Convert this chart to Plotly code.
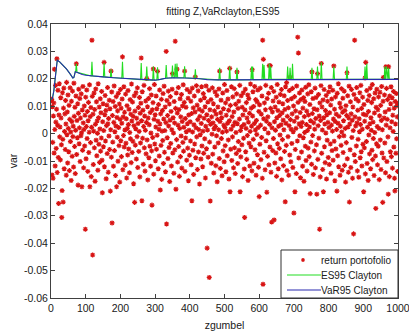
import plotly.graph_objects as go

# ---------------- data ----------------
ret = [
 .0121, .0125, -.0151, .0098, -.0032, -.0163, .0064, .0112, -.0071, .0235, .0015, -.0118, .0176, .0042, -.0054, .0089, .0273, -.0142, .0031, .0158,
 -.0087, -.0255, .0068, .0182, -.0012, .0024, -.0096, .0131, .0057, -.0041, -.0306, -.0208, .0149, -.0021, -.025, .0093, .0166, -.0128, .0008, .0072,
 -.0058, .0121, .0035, -.0152, .0187, -.0004, .0079, -.0107, .0141, .0019, -.0066, .0103, -.0135, .0052, .0167, -.0029, .0006, -.0171, .0118, .0044,
 -.0083, .0155, -.0011, .0027, -.0122, .0184, .0063, -.0047, .0096, -.0146, .0012, .0137, .0255, -.0076, .0048, -.0015, .0109, -.0188, .0074, .0162,
 -.0037, .0021, .0128, -.0102, .0057, -.0008, .0145, .0003, -.0194, .0086, -.0061, .0172, .0039, -.0125, .0015, .0101, -.0045, .0067, -.0349, .0133,
 -.0092, .0026, .0159, -.0018, .0081, -.0138, .0047, .0114, -.0069, .0005, .0178, -.0194, .0062, -.0033, .0095, -.0157, .0023, .0341, .0136, -.0443,
 .0071, -.0113, .0009, .0148, -.0052, .0088, -.0174, .0034, .0163, -.0024, .0116, -.0081, .0046, .0001, -.0134, .0182, .0058, -.0039, .0097, -.0105,
 .0017, .0127, -.0064, .0076, -.0016, .0154, -.0097, -.0216, .0043, .0109, -.0048, .0011, .026, -.0121, .0069, .0139, -.0027, .0084, -.0165, .0029,
 .0104, -.0073, .0168, .0036, -.0141, .0055, -.0009, .0122, -.0058, .0091, -.021, .0014, .0228, -.0086, .0152, -.0326, .0066, -.0031, .0117, -.0119,
 .0041, .0174, -.0062, .0007, .0099, -.0153, .0028, .0135, -.0194, .0059, -.0013, .0083, -.0101, .0147, .0022, -.0044, .0108, -.0177, .0052, .0161,
 -.0026, .0093, -.0084, .0038, .0126, .028, -.0132, .0061, -.0007, .0171, -.0049, .0078, .0013, -.0115, .0144, -.0035, .0054, -.0162, .0102, .0019,
 -.0078, .0157, .0033, -.0056, .0089, -.0143, .0004, .0124, -.0019, .0071, -.0106, .0181, .0046, -.0069, .0115, -.0028, .0063, -.0183, .0029, .0138,
 -.0251, .0082, -.0042, .0018, .0149, -.0093, .0056, -.0011, .0167, -.0124, .0037, .0095, -.0065, .0008, .0132, -.0158, .0074, -.0034, .0111, .0276,
 .0047, -.0245, .0153, -.0017, .0085, -.0112, .0026, .0176, -.0052, .0064, -.0137, .0012, .0119, -.0074, .0041, .0201, -.0023, .0098, -.0169, .0057,
 .0128, -.0088, .0032, .0164, -.0046, .0077, -.0119, .0002, .0141, -.0063, -.0261, .0087, -.0014, .0113, .0236, -.0148, .0052, .0179, -.0038, .0069,
 -.0099, .0024, .0137, -.0057, .0091, -.0006, .0227, .0045, -.0128, .0106, .0016, -.0082, .0159, .0035, -.0206, .0072, -.0043, .0125, -.0167, .0009,
 .0084, -.0025, .0146, -.0109, .0053, .0173, -.0068, .0011, .0097, -.0139, .0040, .030, -.033, .0121, -.0015, .0066, -.0091, .0155, .0028, -.0051,
 .0108, -.0175, .0049, .0135, -.0036, .0081, -.0118, .0014, .0162, .0219, -.0071, .0058, .0002, -.0145, .0117, .0039, -.0059, .0337, .0092, -.0203,
 .0148, -.0022, .0235, .0075, -.0104, .0031, .0168, -.0047, .0088, -.0156, .0019, .0127, -.0084, .0061, -.0009, .0143, -.0126, .0044, .0101, -.0032,
 .0178, -.0064, .0023, .0114, .0228, -.0138, .0055, -.0016, .0096, .0007, -.0097, .0161, .0036, -.0053, .0129, -.0172, .0068, .0012, -.0079, .0152,
 .0043, -.0027, .0118, -.0114, .0073, -.0245, .0166, .0006, -.0061, .0094, -.0149, .0032, .0137, -.0038, .0079, .0207, -.0088, .0021, .0175, -.0012,
 .0104, -.0131, .0051, .0156, -.0067, .0015, .0089, -.0184, .0063, -.0004, .0122, -.0093, .0037, .0171, -.0045, .0082, -.0121, .0009, .0146, -.0072,
 .0056, .0131, -.0019, .0098, -.0162, .0027, .0174, -.0055, .0069, -.0418, .0013, .0115, -.0086, .0048, .0158, -.0525, -.0031, .0087, -.0246, .0034,
 .0124, -.0108, .0061, -.0002, .0167, -.0075, .0039, .0109, -.0144, .0018, .0083, -.0049, .0152, .0026, -.0117, .0071, -.0008, .0139, -.0176, .0052,
 .0097, -.0034, .0014, .0163, -.0091, .0228, .0044, -.0127, .0076, .0122, -.0018, .0058, -.0154, .0005, .0148, -.0063, .0091, .0031, -.0103, .0179,
 .0023, -.0044, .0112, -.0139, .0067, .0009, .0157, -.0081, .0038, .0126, -.0023, .0085, -.0166, .0047, .0238, -.0212, .0103, -.0057, .0016, .0171,
 -.0098, .0062, -.0012, .0134, .0029, -.0125, .0079, .0164, -.0052, .0041, -.0146, .0107, .0004, -.0073, .0145, .0225, .0036, -.0109, .0092, -.0029,
 .0118, -.0061, .0053, .0176, -.0212, .0011, -.0085, .0138, .0025, -.0041, .0096, -.0157, .0068, .0149, -.0017, .0033, -.0129, -.0306, .0086, .0162,
 -.0066, .0019, .0113, -.0094, .0057, -.0007, .0141, -.0171, .0042, .0128, -.0035, .0074, -.0118, .0008, .0181, -.0048, .0093, .0027, -.0136, .0233,
 .0064, .0153, -.0021, .0099, -.0108, .0037, .0172, -.0059, .0013, .0124, -.0152, .0048, -.0003, .0116, -.0077, .0159, .0022, -.0123, .0081, -.023,
 .0105, -.0039, .0166, .0031, -.0095, .0071, -.0014, .0137, -.0163, .0341, -.055, .0271, .0054, -.0068, .0112, .0018, -.0132, .0087, .0176, -.0026,
 .0045, -.0214, .0128, -.0083, .0061, .0002, .0147, -.0114, .0248, .0034, -.0049, .0248, .0092, -.0141, .0168, -.0323, .0021, .0079, -.0062, .0119,
 -.0018, .0154, -.0315, .0043, -.0107, .0097, .0012, -.0071, .0133, -.0156, .0058, .0179, -.0037, .0084, -.0128, .0027, .0115, -.0054, .0066, -.0005,
 .0143, -.0092, .0032, .0161, -.0169, .0076, -.0022, .0109, .0049, -.0117, .0014, .0138, -.0065, .0088, -.0249, .0171, .0038, -.0043, .0186, -.0135,
 .0063, .0121, -.0011, .0094, -.0152, .0029, .0157, -.0078, .0205, .0051, -.0103, .0016, .0127, -.0036, .0072, .0165, -.0124, .0007, .0101, -.029,
 .0045, .0135, -.0212, -.0058, .0083, .0019, -.0146, .0174, .0059, -.0027, .0352, .0114, .0294, -.0089, .0036, .0148, -.0008, .0077, -.0161, .0124,
 .0026, -.0067, .0159, .0041, -.0119, .0093, -.0015, .0131, -.0174, .0062, .0004, .0117, -.0046, .0169, -.0098, .0033, .0082, -.0137, .0011, .0145,
 -.0053, .0068, .0178, -.0084, .0024, .0106, -.0219, .0047, -.0031, .0153, -.0112, .0225, .0073, -.0007, .0128, -.0149, .0039, .0091, -.0063, .0016,
 .0166, -.0125, .0055, .0132, -.0041, -.0221, .0087, .0219, -.0094, .0029, .0143, -.0017, .0064, -.0349, .0112, -.0158, .0048, .0175, .0256, -.0072,
 .0097, .0013, -.0131, .0123, -.0212, .0058, .0161, -.0048, .0035, -.0106, .0084, .0002, .0139, -.0166, .0069, -.0024, .0118, .0041, -.0087, .0152,
 .0022, -.0113, .0076, .0171, -.0038, .0104, -.0145, .0031, .0126, -.0062, .0009, .0158, -.0097, .0053, .0247, -.0028, .0089, -.0172, .0044, .0134,
 -.0056, .0071, .0015, -.021, .0147, -.0081, .0038, .0182, -.0121, .0063, -.0011, .0111, -.0152, .0027, .0095, -.0043, .0164, .0006, -.0134, .0078,
 .0129, -.0069, .0047, -.0008, .0155, -.0116, .0084, .0019, -.0177, .0102, -.0033, .0066, .0222, -.0092, .0138, .0024, -.0141, .0057, .0173, -.025,
 .0035, -.0059, .0116, -.0124, .0072, .0161, -.0014, .0049, -.0163, .0097, .0011, -.0366, .0143, -.0077, .0341, .0061, -.0102, .0028, .0126, -.0045,
 .0168, .0039, -.0136, .0085, -.0021, .0119, -.0159, .0054, .0007, .0149, -.0088, .0033, .0176, -.0066, .0092, -.0118, .0016, .0133, -.0039, .0071,
 -.0212, .0106, -.0052, .0045, .0203, -.0147, .026, .0068, -.0029, .0157, -.0109, .0023, .0121, -.0171, .0081, -.0005, .0139, -.0074, .0036, .0166,
 -.0128, .0058, .0012, .0113, -.0061, .0179, -.0095, .0042, -.0018, .0127, -.0153, .0075, .0004, .0148, -.0082, -.0273, .0096, -.0037, .0162, .0026,
 -.0114, .0087, -.0046, .0134, .0019, -.0168, .0065, .0151, -.0023, .0103, -.0131, .0048, .0172, -.0071, .0014, -.0251, .0118, .0205, -.0089, .0057,
 .0141, -.0034, .0079, -.0143, .0244, .0031, .0165, -.0102, .0052, .0124, -.0012, -.0221, .0244, .0088, -.0157, .0137, .0021, -.0066, .0109, .0171,
 -.0084, .0043, .0131, -.0126, .0067, .0008, .0154, -.0049, .0093, -.0163, -.0209, .0117, .0035, -.0072, .0146, -.0019, .0102, .0061, -.0138, .0111,
]
ret_x = list(range(1, len(ret) + 1))

var_x = [1, 4, 8, 12, 15, 18, 25, 35, 45, 55, 63, 66, 70, 74, 80, 90, 100, 120, 150, 180, 210, 240, 270,
         300, 315, 330, 350, 380, 410, 430, 450, 480, 520, 560, 600, 650, 700, 750, 800, 850, 900, 950, 1000]
var_y = [.0125, .0128, .0155, .0205, .0240, .0268, .0262, .0250, .0235, .0218, .0203, .0205, .0226, .0224,
         .0220, .0216, .0213, .0210, .0207, .0204, .0202, .0199, .0196, .0195, .0198, .0202, .0204, .0204,
         .0202, .0200, .0197, .0196, .0196, .0197, .0198, .0198, .0198, .0198, .0198, .0198, .0198, .0198, .0198]

es_x = [1, 4, 8, 12, 15, 18, 25, 35, 45, 55, 63, 66, 70,
        71, 73, 75, 116, 118, 120, 151, 153, 155, 171, 173, 175, 204, 206, 208,
        258, 260, 262, 274, 276, 278, 293, 295, 297, 305, 307, 309, 330, 332, 334,
        348, 350, 352, 356, 358, 360, 361, 363, 365, 383, 385, 387, 414, 416, 418,
        484, 486, 488, 513, 515, 517, 534, 536, 538, 576, 578, 580, 581, 583,
        608, 610, 612, 614, 616, 627, 629, 631, 633, 635, 680, 682, 684, 687, 689, 691,
        694, 696, 698, 750, 752, 754, 766, 768, 770, 777, 779, 781, 813, 815, 817,
        851, 853, 855, 903, 905, 907, 908, 910, 912, 960, 962, 964, 965, 967, 969,
        971, 973, 975, 1000]
es_y = [.0125, .0128, .0155, .0205, .0240, .0268, .0262, .0250, .0235, .0218, .0203, .0205, .0226,
        .0225, .0255, .0224, .0210, .0262, .0210, .0207, .0258, .0207, .0205, .0235, .0205,
        .0202, .0262, .0202, .0197, .0258, .0197, .0196, .0245, .0196, .0195, .0245, .0195,
        .0196, .0242, .0196, .0202, .0250, .0202, .0204, .0248, .0204, .0204, .0255, .0204,
        .0204, .0256, .0204, .0204, .0246, .0204, .0201, .0235, .0201, .0196, .0240, .0196,
        .0196, .0245, .0196, .0196, .0240, .0196, .0197, .0245, .0197, .0245, .0197,
        .0198, .0255, .0198, .0250, .0198, .0198, .0255, .0198, .0245, .0198, .0198, .0245, .0198,
        .0198, .0240, .0198, .0198, .0255, .0198, .0198, .0240, .0198, .0198, .0245, .0198,
        .0198, .0260, .0198, .0198, .0245, .0198, .0198, .0245, .0198, .0198, .0245, .0198,
        .0198, .0255, .0198, .0198, .0245, .0198, .0198, .0245, .0198, .0198, .0240, .0198, .0198]

y_ticks = [0.04, 0.03, 0.02, 0.01, 0, -0.01, -0.02, -0.03, -0.04, -0.05, -0.06]
y_ticktext = ["0.04", "0.03", "0.02", "0.01", "0", "-0.01", "-0.02", "-0.03", "-0.04", "-0.05", "-0.06"]
x_ticks = [0, 100, 200, 300, 400, 500, 600, 700, 800, 900, 1000]

series_names = ["return portofolio", "ES95 Clayton", "VaR95 Clayton"]
RED, GREEN, BLUE = "#d81414", "#22dd22", "#2a2ab0"
FONT = "Liberation Sans, Arial"

# ---------------- figure ----------------
fig = go.Figure()
fig.add_trace(go.Scatter(
    x=ret_x, y=ret, mode="markers", name=series_names[0], showlegend=False,
    marker=dict(symbol="asterisk-open", size=4.2, color=RED,
                line=dict(color=RED, width=1.2))))
fig.add_trace(go.Scatter(
    x=es_x, y=es_y, mode="lines", name=series_names[1], showlegend=False,
    line=dict(color=GREEN, width=1.1)))
fig.add_trace(go.Scatter(
    x=var_x, y=var_y, mode="lines", name=series_names[2], showlegend=False,
    line=dict(color=BLUE, width=1.1)))

axis_common = dict(showgrid=False, zeroline=False, showline=True, linecolor="#404040",
                   linewidth=1, mirror="ticks", ticks="inside", ticklen=4,
                   tickcolor="#404040", ticklabeloverflow="allow", automargin=False,
                   tickfont=dict(family=FONT, size=10.5, color="#202020"))

# --- compact MATLAB-style legend box (paper coordinates of the plot area) ---
PW, PH = 347.0, 274.0          # plot-area size in px
def px(v): return v / PW
def py(v): return v / PH
box = dict(x0=px(230), x1=1.0, y0=0.0, y1=py(48))
rows = [py(38), py(23), py(8)]
line_x0, line_x1, mark_x, text_x = px(236), px(270), px(252), px(269)

shapes = [dict(type="rect", xref="paper", yref="paper", **box,
               line=dict(color="#303030", width=1), fillcolor="white", layer="above")]
cx, cy = mark_x, rows[0]
shapes.append(dict(type="path", xref="paper", yref="paper", layer="above",
                   path=(f"M{cx-px(1.8)},{cy} L{cx+px(1.8)},{cy} M{cx},{cy-py(1.8)} L{cx},{cy+py(1.8)} "
                         f"M{cx-px(1.3)},{cy-py(1.3)} L{cx+px(1.3)},{cy+py(1.3)} "
                         f"M{cx-px(1.3)},{cy+py(1.3)} L{cx+px(1.3)},{cy-py(1.3)}"),
                   line=dict(color=RED, width=1.2)))
for row, col in zip(rows[1:], [GREEN, BLUE]):
    shapes.append(dict(type="line", xref="paper", yref="paper", layer="above",
                       x0=line_x0, x1=line_x1, y0=row, y1=row, line=dict(color=col, width=1.1)))
annotations = [dict(xref="paper", yref="paper", x=text_x, y=row, text=name, showarrow=False,
                    xanchor="left", yanchor="middle", borderpad=0,
                    font=dict(family=FONT, size=10, color="#202020"))
               for row, name in zip(rows, series_names)]

fig.update_layout(
    width=409, height=331,
    margin=dict(l=51, r=11, t=24, b=33),
    paper_bgcolor="white", plot_bgcolor="white",
    font=dict(family=FONT, size=11, color="#202020"),
    title=dict(text="fitting Z,VaRclayton,ES95", x=0.545, xanchor="center",
               y=0.965, yanchor="middle", font=dict(size=10, color="#202020")),
    xaxis=dict(range=[0, 1000], tickvals=x_ticks,
               title=dict(text="zgumbel", font=dict(size=10.5), standoff=10), **axis_common),
    yaxis=dict(range=[-0.06, 0.04], tickvals=y_ticks, ticktext=y_ticktext,
               title=dict(text="var", font=dict(size=10.5), standoff=4), **axis_common),
    shapes=shapes, annotations=annotations,
    showlegend=False,
)

fig.write_html("out.html")
